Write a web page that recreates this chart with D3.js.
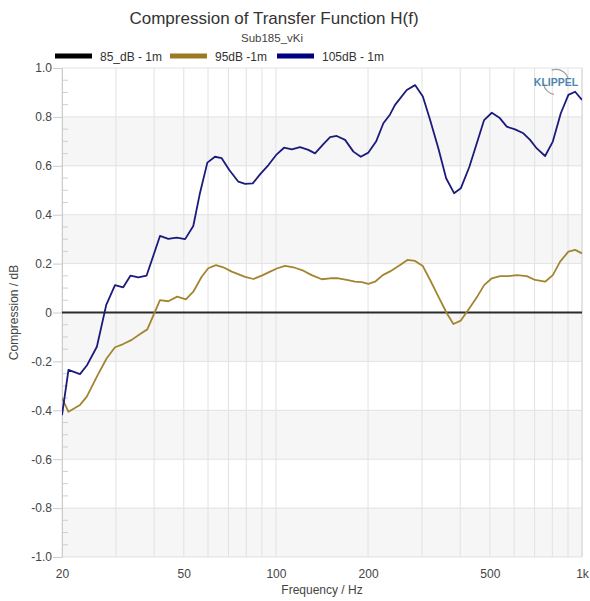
<!DOCTYPE html>
<html>
<head>
<meta charset="utf-8">
<script src="https://cdn.jsdelivr.net/npm/d3@7"></script>
<style>
  html, body { margin: 0; padding: 0; background: #fff; }
  svg { display: block; font-family: "Liberation Sans", Arial, sans-serif; }
</style>
</head>
<body>
<svg id="chart" width="590" height="601"></svg>
<script>
// Compression of the transfer function, relative to the 85 dB reference run
const seriesNames = ["85_dB - 1m", "95dB -1m", "105dB - 1m"];
const seriesColors = ["#2b2b2b", "#a3852f", "#1b1b7c"];

// 85 dB reference (flat by definition)
const freq85 = [20, 50, 100, 200, 500, 1000];
const comp85 = [0, 0, 0, 0, 0, 0];

// 95 dB
const freq95 = [20, 21.0, 22.9, 24.1, 26.0, 28.0, 29.8, 31.7, 33.8, 36.0, 38.0,
  41.8, 44.5, 47.6, 50.8, 53.7, 57.2, 60.1, 63.7, 67.3, 71.7, 79.3, 84.4, 89.9,
  95.7, 101.1, 107.1, 114.0, 122.9, 130.9, 141.2, 150.3, 159.9, 170.4, 181.3,
  190.7, 200.5, 210.8, 223.4, 236.0, 254.5, 268.8, 284.8, 302.0, 319.0, 339.5,
  361.6, 380.0, 401.8, 428.6, 453.2, 478.8, 507.5, 540.2, 574.8, 612.2, 660.2,
  702.8, 757.6, 802.8, 848.2, 902.8, 949.6, 1000];
const comp95 = [-0.35, -0.406, -0.378, -0.344, -0.262, -0.187, -0.142, -0.129,
  -0.112, -0.088, -0.069, 0.051, 0.046, 0.065, 0.054, 0.085, 0.146, 0.181, 0.194,
  0.185, 0.167, 0.146, 0.137, 0.151, 0.167, 0.181, 0.191, 0.185, 0.171, 0.153,
  0.136, 0.14, 0.14, 0.133, 0.126, 0.124, 0.117, 0.126, 0.153, 0.168, 0.194,
  0.215, 0.211, 0.19, 0.133, 0.065, -0.003, -0.047, -0.033, 0.017, 0.062, 0.112,
  0.14, 0.149, 0.149, 0.153, 0.149, 0.133, 0.126, 0.153, 0.208, 0.249, 0.256,
  0.242];

// 105 dB
const freq105 = [20, 21.0, 22.9, 24.1, 26.0, 27.9, 29.8, 31.7, 33.5, 35.5, 37.8,
  41.8, 44.5, 47.4, 50.5, 53.7, 56.5, 59.7, 63.2, 66.5, 70.4, 75.4, 79.3, 84.0,
  88.7, 94.5, 100.6, 106.3, 112.7, 119.9, 127.6, 134.2, 142.9, 150.3, 158.0,
  168.2, 179.1, 189.3, 200.5, 212.4, 224.4, 236.0, 245.0, 267.6, 284.8, 302.0,
  319.0, 339.5, 359.8, 382.0, 401.8, 428.6, 453.2, 478.8, 507.5, 537.2, 567.8,
  604.4, 643.4, 676.6, 711.6, 757.6, 802.8, 852.6, 902.8, 949.6, 1000];
const comp105 = [-0.42, -0.235, -0.252, -0.217, -0.14, 0.031, 0.112, 0.103,
  0.151, 0.144, 0.151, 0.313, 0.301, 0.306, 0.3, 0.354, 0.49, 0.613, 0.637, 0.631,
  0.583, 0.535, 0.526, 0.528, 0.565, 0.603, 0.647, 0.674, 0.667, 0.676, 0.665,
  0.651, 0.689, 0.717, 0.722, 0.706, 0.658, 0.637, 0.654, 0.699, 0.774, 0.81,
  0.849, 0.91, 0.93, 0.883, 0.787, 0.671, 0.549, 0.488, 0.508, 0.596, 0.692,
  0.787, 0.817, 0.797, 0.76, 0.749, 0.733, 0.706, 0.671, 0.64, 0.699, 0.815,
  0.89, 0.903, 0.869];

// Axis ticks
const xTickValues = [20, 50, 100, 200, 500, 1000];
const xTickLabels = ["20", "50", "100", "200", "500", "1k"];
const xGridValues = [20, 30, 40, 50, 60, 70, 80, 90, 100, 200, 300, 400, 500,
  600, 700, 800, 900, 1000];
const yTickValues = [-1.0, -0.8, -0.6, -0.4, -0.2, 0, 0.2, 0.4, 0.6, 0.8, 1.0];
const yTickLabels = ["-1.0", "-0.8", "-0.6", "-0.4", "-0.2", "0", "0.2", "0.4",
  "0.6", "0.8", "1.0"];

const svg = d3.select("#chart");
const plot = { left: 62, right: 582, top: 68, bottom: 557 };

const x = d3.scaleLog().domain([20, 1000]).range([plot.left, plot.right]);
const y = d3.scaleLinear().domain([-1, 1]).range([plot.bottom, plot.top]);

// Alternating horizontal bands
const bands = d3.pairs(yTickValues).filter((_, i) => i % 2 === 0);
svg.append("g").selectAll("rect").data(bands).join("rect")
  .attr("x", plot.left).attr("width", plot.right - plot.left)
  .attr("y", d => y(d[1])).attr("height", d => y(d[0]) - y(d[1]))
  .attr("fill", "#f6f6f6");

// Grid lines
svg.append("g").selectAll("line").data(xGridValues).join("line")
  .attr("x1", d => x(d)).attr("x2", d => x(d))
  .attr("y1", plot.top).attr("y2", plot.bottom)
  .attr("stroke", "#e2e2e2").attr("stroke-width", 1);
svg.append("g").selectAll("line").data(yTickValues).join("line")
  .attr("x1", plot.left).attr("x2", plot.right)
  .attr("y1", d => y(d)).attr("y2", d => y(d))
  .attr("stroke", "#e2e2e2").attr("stroke-width", 1);

// Minor ticks inside the left edge
const yMinor = d3.range(-20, 21).map(i => i * 0.05)
  .filter(v => Math.abs(Math.round(v * 5) - v * 5) > 1e-6);
svg.append("g").selectAll("line").data(yMinor).join("line")
  .attr("x1", plot.left).attr("x2", plot.left + 6)
  .attr("y1", d => y(d)).attr("y2", d => y(d))
  .attr("stroke", "#cfcfcf").attr("stroke-width", 1);

// Left axis
const yAxis = d3.axisLeft(y).tickValues(yTickValues)
  .tickFormat((d, i) => yTickLabels[i]).tickSize(9).tickPadding(1);
const gy = svg.append("g").attr("transform", `translate(${plot.left},0)`).call(yAxis);
gy.select(".domain").attr("stroke", "#cccccc");
gy.selectAll(".tick line").attr("stroke", "#cccccc");
gy.selectAll(".tick text").attr("fill", "#444").style("font-size", "12px")
  .style("font-family", "'Liberation Sans', Arial, sans-serif");

// Right border
svg.append("line").attr("x1", plot.right).attr("x2", plot.right)
  .attr("y1", plot.top).attr("y2", plot.bottom).attr("stroke", "#d6d6d6");

// Bottom axis
const xAxis = d3.axisBottom(x).tickValues(xTickValues)
  .tickFormat((d, i) => xTickLabels[i]).tickSize(0).tickPadding(12);
const gx = svg.append("g").attr("transform", `translate(0,${plot.bottom})`).call(xAxis);
gx.select(".domain").remove();
gx.selectAll(".tick text").attr("fill", "#444").style("font-size", "12px")
  .style("font-family", "'Liberation Sans', Arial, sans-serif");

// Curves
svg.append("defs").append("clipPath").attr("id", "plotClip")
  .append("rect").attr("x", plot.left).attr("y", plot.top)
  .attr("width", plot.right - plot.left).attr("height", plot.bottom - plot.top);

const line = d3.line().x(d => x(d[0])).y(d => y(d[1]));
const curves = [
  { f: freq85, v: comp85, color: seriesColors[0], w: 2 },
  { f: freq95, v: comp95, color: seriesColors[1], w: 1.8 },
  { f: freq105, v: comp105, color: seriesColors[2], w: 1.8 }
];
const gc = svg.append("g").attr("clip-path", "url(#plotClip)");
curves.forEach(c => {
  gc.append("path").datum(d3.zip(c.f, c.v))
    .attr("d", line).attr("fill", "none")
    .attr("stroke", c.color).attr("stroke-width", c.w)
    .attr("stroke-linejoin", "round");
});

// Titles
svg.append("text").attr("x", 274).attr("y", 24).attr("text-anchor", "middle")
  .attr("fill", "#333").style("font-size", "17px")
  .text("Compression of Transfer Function H(f)");
svg.append("text").attr("x", 272).attr("y", 42).attr("text-anchor", "middle")
  .attr("fill", "#444").style("font-size", "11.5px").text("Sub185_vKi");
svg.append("text").attr("x", (plot.left + plot.right) / 2).attr("y", 594)
  .attr("text-anchor", "middle").attr("fill", "#444").style("font-size", "12px")
  .text("Frequency / Hz");
svg.append("text").attr("transform", `translate(18,${(plot.top + plot.bottom) / 2}) rotate(-90)`)
  .attr("text-anchor", "middle").attr("fill", "#444").style("font-size", "12px")
  .text("Compression / dB");

// Legend
const legendX = [55, 170, 277];
const lg = svg.append("g").selectAll("g").data(seriesNames).join("g")
  .attr("transform", (d, i) => `translate(${legendX[i]},56)`);
lg.append("rect").attr("x", 0).attr("y", -2.5).attr("width", 37).attr("height", 5)
  .attr("fill", (d, i) => [ "#000000", "#9c7a22", "#000080" ][i]);
lg.append("text").attr("x", 45).attr("y", 5).attr("fill", "#333")
  .style("font-size", "12px").text(d => d);

// KLIPPEL mark
const logo = svg.append("g").attr("transform", "translate(556,82)");
const arcGen = d3.arc();
logo.append("path").attr("d", arcGen({ innerRadius: 12, outerRadius: 13.2,
  startAngle: -0.35, endAngle: 1.25 })).attr("fill", "#a0a0a0");
logo.append("path").attr("d", arcGen({ innerRadius: 12, outerRadius: 13.2,
  startAngle: 3.3, endAngle: 4.6 })).attr("fill", "#a0a0a0");
logo.append("text").attr("x", 0).attr("y", 4).attr("text-anchor", "middle")
  .attr("fill", "#4f86b0").style("font-size", "10.5px").style("font-weight", "bold")
  .text("KLIPPEL");
</script>
</body>
</html>
